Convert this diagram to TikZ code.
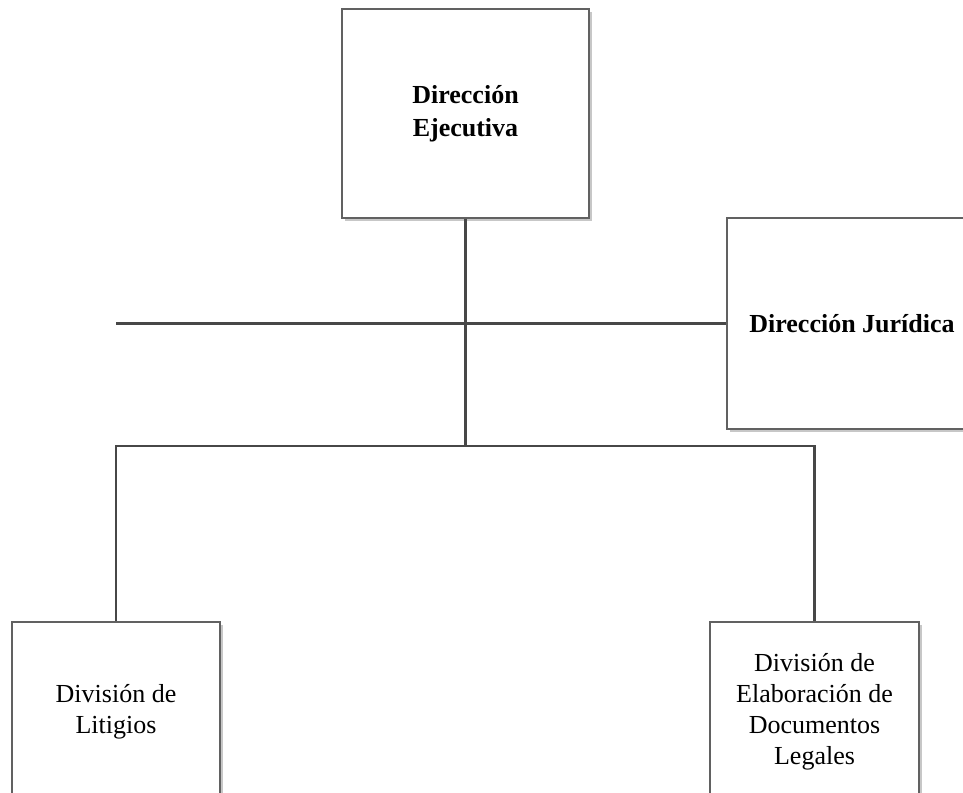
\documentclass[tikz,border=0pt]{standalone}
\usepackage{fontspec}
\setmainfont{Liberation Serif}
\usepackage{tikz}
\usetikzlibrary{shadows,positioning,calc}
\tikzstyle{block} = [draw=black!62, line width=1.2pt, rectangle, fill=white,
    align=center, text=black, inner sep=4pt,
    drop shadow={shadow xshift=3pt, shadow yshift=-3pt, fill=black!22, opacity=1},
    font=\fontsize{26}{31}\selectfont]
\tikzstyle{head} = [block, font=\fontsize{26}{33}\selectfont\bfseries]
\tikzstyle{line} = [draw, line width=2.6pt, color=black!72]

\begin{document}
\begin{tikzpicture}[x=1pt, y=-1pt, node distance=2cm]
    \useasboundingbox (0,0) rectangle (963,792);
    \node [head, minimum width=247pt, minimum height=209pt] (ejec) at (465.5,113.5) {Dirección\\Ejecutiva};
    \node [head, minimum width=250pt, minimum height=211pt] (juri) at (852,323.5) {Dirección Jurídica};
    \node [block, minimum width=208pt, minimum height=180pt] (litig) at (116,712) {División de\\Litigios};
    \node [block, minimum width=209pt, minimum height=180pt] (docs) at (814.5,712) {División de\\Elaboración de\\Documentos\\Legales};

    \coordinate [below of=ejec, node distance=332.5pt] (bus);
    \coordinate (izq) at (litig.north |- juri.west);

    \draw [line] (izq) -- (juri.west);
    \draw [line] (ejec.south) -- (bus);
    \draw [line] (bus) -| (litig.north);
    \draw [line] (bus) -| (docs.north);
\end{tikzpicture}
\end{document}
